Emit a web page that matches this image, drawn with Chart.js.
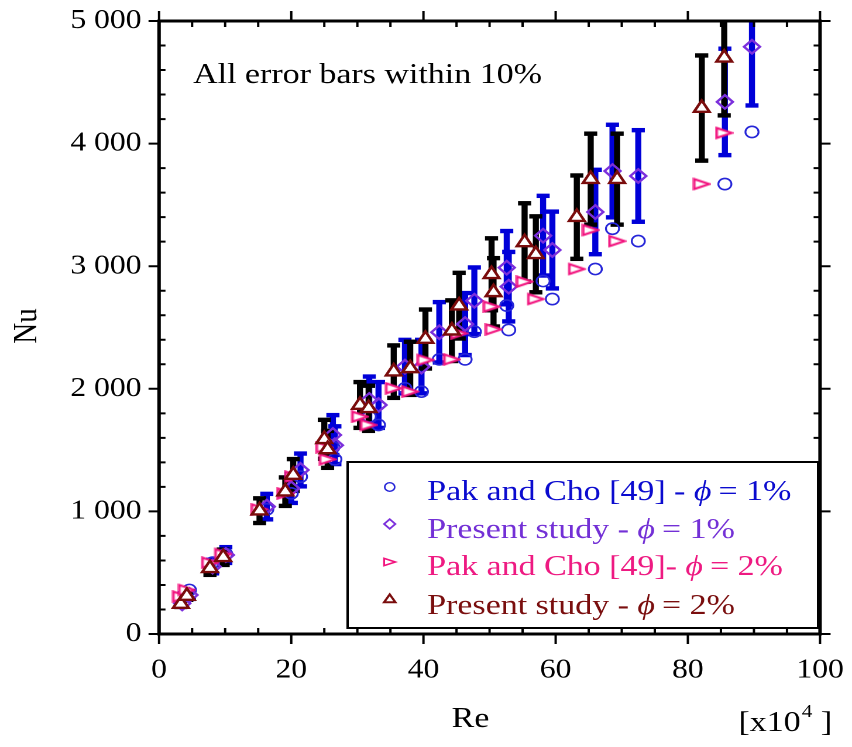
<!DOCTYPE html>
<html>
<head>
<meta charset="utf-8">
<title>Nu vs Re</title>
<script src="https://cdn.jsdelivr.net/npm/chart.js@4.4.1/dist/chart.umd.min.js"></script>
<style>
  html, body { margin: 0; padding: 0; background: #fff; overflow: hidden; }
  /* the source figure is stretched sideways, so the canvas is drawn narrow and widened */
  #chart { display: block; transform-origin: 0 0; transform: scaleX(1.17033); }
</style>
</head>
<body>
<canvas id="chart" width="728" height="747"></canvas>
<script>
// Re values are in units of 1e4
const re2        = [3.3, 4.2, 7.7, 9.7, 15.2, 19.1, 20.3, 25.0, 25.5, 30.4, 31.7, 35.5, 38.0, 40.3, 44.3, 45.4, 50.3, 50.6, 55.3, 57.0, 63.2, 65.3, 69.3, 82.1, 85.5];
const nuPresent2 = [245, 310, 536, 626, 1006, 1161, 1297, 1588, 1506, 1868, 1841, 2140, 2167, 2406, 2474, 2678, 2934, 2787, 3194, 3097, 3400, 3710, 3710, 4290, 4700];
const nuPak2     = [305, 359, 582, 652, 1017, 1147, 1283, 1523, 1425, 1773, 1705, 2004, 1977, 2235, 2240, 2452, 2670, 2485, 2874, 2732, 2977, 3295, 3205, 3670, 4087];
const re1        = [3.5, 4.6, 8.1, 10.1, 16.3, 20.0, 21.4, 26.3, 26.6, 31.8, 33.2, 37.2, 39.7, 42.4, 46.3, 47.7, 52.6, 52.9, 58.1, 59.5, 66.0, 68.6, 72.5, 85.6, 89.7];
const nuPresent1 = [250, 318, 550, 644, 1039, 1188, 1338, 1623, 1540, 1909, 1868, 2181, 2181, 2461, 2528, 2718, 2988, 2833, 3249, 3132, 3442, 3776, 3736, 4340, 4790];
const nuPak1     = [305, 359, 582, 652, 1017, 1147, 1283, 1523, 1425, 1773, 1705, 2004, 1977, 2240, 2240, 2466, 2679, 2480, 2879, 2732, 2977, 3306, 3205, 3670, 4095];

const errFraction = 0.10;
const xMinorStep = 5, yMinorStep = 200;
const legendLabels = [
  ['Pak and Cho [49] - ', '1%'],
  ['Present study - ', '1%'],
  ['Pak and Cho [49]- ', '2%'],
  ['Present study - ', '2%']
];
const note = 'All error bars within 10%';

const C = {
  pak1: '#2626d8', pres1: '#7b2fdc', pak2: '#f2137e', pres2: '#7a0c0c',
  pak1Txt: '#0b0bcf', pres1Txt: '#7330d6', pak2Txt: '#ee1a82', pres2Txt: '#7a0e0e',
  barBlue: '#0000d8', barBlack: '#000'
};
const SERIF = '"Liberation Serif", "Times New Roman", serif';

const pts = (xs, ys) => xs.map((x, i) => ({x, y: ys[i]}));
const fmt = v => String(v).replace(/\B(?=(\d{3})+(?!\d))/g, ' ');

// right-pointing triangle, a bit longer than tall
function rightTri(color) {
  const c = document.createElement('canvas');
  c.width = 16; c.height = 13;
  const g = c.getContext('2d');
  g.beginPath(); g.moveTo(1.5, 1.5); g.lineTo(14.5, 6.5); g.lineTo(1.5, 11.5); g.closePath();
  g.fillStyle = '#fff'; g.fill();
  g.strokeStyle = color; g.lineWidth = 2.2; g.stroke();
  return c;
}

function marker(ctx, kind, x, y) {
  ctx.save();
  ctx.beginPath();
  if (kind === 0) { ctx.arc(x, y, 4.3, 0, Math.PI * 2); ctx.strokeStyle = C.pak1; ctx.lineWidth = 1.4; ctx.stroke(); }
  if (kind === 1) { const r = 4.8; ctx.moveTo(x - r, y); ctx.lineTo(x, y - r); ctx.lineTo(x + r, y); ctx.lineTo(x, y + r); ctx.closePath(); ctx.strokeStyle = C.pres1; ctx.lineWidth = 1.7; ctx.stroke(); }
  if (kind === 2) { ctx.moveTo(x - 4.8, y - 3.6); ctx.lineTo(x + 4.8, y); ctx.lineTo(x - 4.8, y + 3.6); ctx.closePath(); ctx.fillStyle = '#fff'; ctx.fill(); ctx.strokeStyle = C.pak2; ctx.lineWidth = 1.6; ctx.stroke(); }
  if (kind === 3) { ctx.moveTo(x, y - 4.6); ctx.lineTo(x + 4.8, y + 3.2); ctx.lineTo(x - 4.8, y + 3.2); ctx.closePath(); ctx.fillStyle = '#fff'; ctx.fill(); ctx.strokeStyle = C.pres2; ctx.lineWidth = 2; ctx.stroke(); }
  ctx.restore();
}

const errorBars = {
  id: 'errorBars',
  beforeDatasetsDraw(chart) {
    const {ctx, chartArea: a, scales: {y}} = chart;
    ctx.save();
    ctx.beginPath(); ctx.rect(a.left, a.top, a.right - a.left, a.bottom - a.top); ctx.clip();
    chart.data.datasets.forEach((ds, i) => {
      if (!ds.errorColor) return;
      ctx.fillStyle = ds.errorColor;
      chart.getDatasetMeta(i).data.forEach((pt, j) => {
        const v = ds.data[j].y;
        const top = y.getPixelForValue(v * (1 + errFraction));
        const bot = y.getPixelForValue(v * (1 - errFraction));
        ctx.fillRect(pt.x - 2.6, top, 5.2, bot - top);
        ctx.fillRect(pt.x - 5.6, top - 2.2, 11.2, 4.4);
        ctx.fillRect(pt.x - 5.6, bot - 2.2, 11.2, 4.4);
      });
    });
    ctx.restore();
  }
};

const frame = {
  id: 'frame',
  afterDatasetsDraw(chart) {
    const {ctx, chartArea: a, scales: {x, y}} = chart;
    ctx.save();
    ctx.strokeStyle = '#000';
    ctx.lineWidth = 2;
    ctx.beginPath();
    for (let v = x.min; v <= x.max; v += xMinorStep) {
      const px = x.getPixelForValue(v);
      const d = v % x.options.ticks.stepSize === 0 ? -10 : 6;
      ctx.moveTo(px, a.bottom); ctx.lineTo(px, a.bottom - d);
      ctx.moveTo(px, a.top); ctx.lineTo(px, a.top + d);
    }
    for (let v = y.min; v <= y.max; v += yMinorStep) {
      const py = y.getPixelForValue(v);
      const d = v % y.options.ticks.stepSize === 0 ? -9 : 5.5;
      ctx.moveTo(a.left, py); ctx.lineTo(a.left + d, py);
      ctx.moveTo(a.right, py); ctx.lineTo(a.right - d, py);
    }
    ctx.stroke();
    ctx.lineWidth = 3;
    ctx.strokeRect(a.left, a.top, a.right - a.left, a.bottom - a.top);
    ctx.restore();
  },
  afterDraw(chart) {
    const {ctx} = chart;
    ctx.save();
    ctx.fillStyle = '#000';
    ctx.textBaseline = 'alphabetic';
    // axis titles
    ctx.font = '29px ' + SERIF;
    ctx.textAlign = 'center';
    ctx.fillText('Re', 402, 727);
    ctx.save();
    ctx.translate(31, 326);
    ctx.rotate(-Math.PI / 2);
    ctx.fillText('Nu', 0, 0);
    ctx.restore();
    ctx.textAlign = 'left';
    let px = 631;
    ctx.fillText('[x10', px, 731); px += ctx.measureText('[x10').width;
    ctx.font = '18px ' + SERIF;
    ctx.fillText('4', px + 1, 717); px += ctx.measureText('4').width + 1;
    ctx.font = '29px ' + SERIF;
    ctx.fillText(' ]', px, 731);
    // note
    ctx.fillText(note, 165, 83);
    // legend
    const bx = 297, by = 462, bw = 402, bh = 166;
    ctx.fillStyle = '#fff'; ctx.fillRect(bx, by, bw, bh);
    ctx.strokeStyle = '#000'; ctx.lineWidth = 2; ctx.strokeRect(bx, by, bw, bh);
    const rowMark = [487, 524, 562, 599], rowText = [500, 538, 575, 614];
    const txtCol = [C.pak1Txt, C.pres1Txt, C.pak2Txt, C.pres2Txt];
    legendLabels.forEach((lab, i) => {
      marker(ctx, i, 333, rowMark[i]);
      let tx = 365;
      ctx.fillStyle = txtCol[i];
      ctx.font = '29px ' + SERIF;
      ctx.fillText(lab[0], tx, rowText[i]); tx += ctx.measureText(lab[0]).width;
      ctx.font = 'italic 29px ' + SERIF;
      ctx.fillText('\u03D5', tx, rowText[i]); tx += ctx.measureText('\u03D5').width + 6;
      ctx.font = '29px ' + SERIF;
      ctx.fillText('= ' + lab[1], tx, rowText[i]);
    });
    ctx.restore();
  }
};

new Chart(document.getElementById('chart'), {
  type: 'scatter',
  data: {
    datasets: [
      { label: 'Pak and Cho [49] - 1%', data: pts(re1, nuPak1), order: 3,
        pointStyle: 'circle', pointRadius: 5.6, borderColor: C.pak1, backgroundColor: 'transparent', borderWidth: 1.6 },
      { label: 'Present study - 1%', data: pts(re1, nuPresent1), order: 2, errorColor: C.barBlue,
        pointStyle: 'rectRot', pointRadius: 6.8, borderColor: C.pres1, backgroundColor: 'transparent', borderWidth: 2.2 },
      { label: 'Pak and Cho [49] - 2%', data: pts(re2, nuPak2), order: 1,
        pointStyle: rightTri(C.pak2), pointRadius: 6, borderColor: C.pak2, backgroundColor: '#fff' },
      { label: 'Present study - 2%', data: pts(re2, nuPresent2), order: 0, errorColor: C.barBlack,
        pointStyle: 'triangle', pointRadius: 7.6, borderColor: C.pres2, backgroundColor: '#fff', borderWidth: 2.4 }
    ]
  },
  options: {
    responsive: false, animation: false, devicePixelRatio: 2,
    layout: { padding: { left: 0, top: 21, right: 27.3, bottom: 0 } },
    plugins: { legend: { display: false }, tooltip: { enabled: false } },
    scales: {
      x: {
        type: 'linear', min: 0, max: 100,
        grid: { display: false, drawTicks: false }, border: { display: false },
        ticks: { stepSize: 20, autoSkip: false, maxRotation: 0, padding: 20, color: '#000', font: { family: SERIF, size: 27 } },
        // fixed box, no extra room for labels hanging past the ends
        afterFit: s => { s.height = 113; s.paddingLeft = 0; s.paddingRight = 0; }
      },
      y: {
        type: 'linear', min: 0, max: 5000,
        grid: { display: false, drawTicks: false }, border: { display: false },
        ticks: { stepSize: 1000, autoSkip: false, padding: 15, color: '#000', font: { family: SERIF, size: 27 }, callback: v => fmt(v) },
        afterFit: s => { s.width = 135.9; s.paddingTop = 0; s.paddingBottom = 0; }
      }
    }
  },
  plugins: [errorBars, frame]
});
</script>
</body>
</html>
